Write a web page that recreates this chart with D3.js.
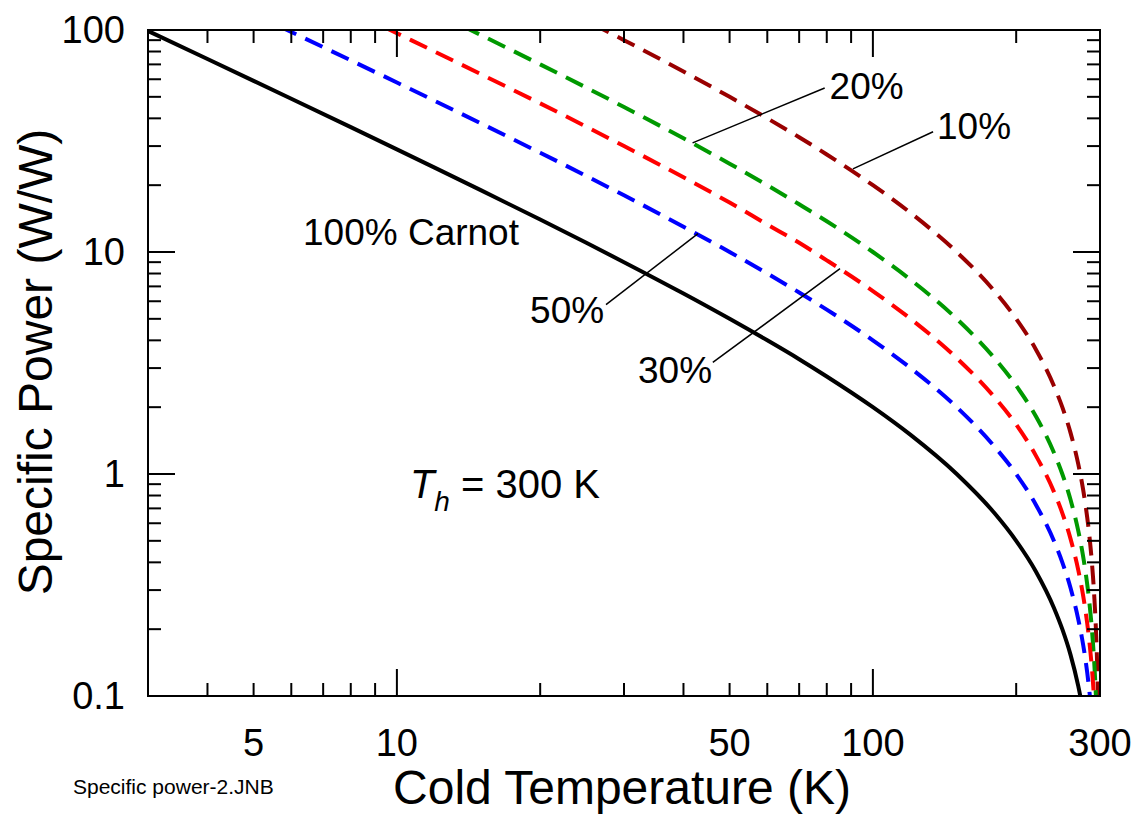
<!DOCTYPE html>
<html>
<head>
<meta charset="utf-8">
<script src="https://cdn.jsdelivr.net/npm/d3@7"></script>
<style>
  body { margin: 0; background: #fff; }
  text { font-family: "Liberation Sans", Arial, sans-serif; fill: #000; }
</style>
</head>
<body>
<div class="chart"></div>
<script>
// cold temperatures (K) at which the curves were read
var temps = [3, 4, 5, 6, 8, 10, 12, 15, 20, 25, 30, 40, 50, 60, 70, 80, 100, 120, 150, 180,
  200, 220, 240, 250, 260, 270, 275, 280, 285, 288, 290, 292, 294, 296, 298];

// specific power (W/W)
var carnot100 = [99, 74, 59, 49, 36.5, 29, 24, 19, 14, 11, 9, 6.5, 5, 4, 3.29, 2.75, 2, 1.5, 1, 0.667,
  0.5, 0.364, 0.25, 0.2, 0.154, 0.111, 0.0909, 0.0714, 0.0526, 0.0417, 0.0345, 0.0274, 0.0204, 0.0135, 0.0067];
var carnot50 = [198, 148, 118, 98, 73, 58, 48, 38, 28, 22, 18, 13, 10, 8, 6.57, 5.5, 4, 3, 2, 1.33,
  1, 0.727, 0.5, 0.4, 0.308, 0.222, 0.182, 0.143, 0.105, 0.0833, 0.069, 0.055, 0.041, 0.027, 0.0134];
var carnot30 = [330, 247, 197, 163, 122, 96.7, 80, 63.3, 46.7, 36.7, 30, 21.7, 16.7, 13.3, 11, 9.17, 6.67, 5, 3.33, 2.22,
  1.67, 1.21, 0.833, 0.667, 0.513, 0.37, 0.303, 0.238, 0.175, 0.139, 0.115, 0.0913, 0.068, 0.045, 0.0224];
var carnot20 = [495, 370, 295, 245, 182, 145, 120, 95, 70, 55, 45, 32.5, 25, 20, 16.4, 13.75, 10, 7.5, 5, 3.33,
  2.5, 1.82, 1.25, 1, 0.769, 0.556, 0.455, 0.357, 0.263, 0.208, 0.172, 0.137, 0.102, 0.0676, 0.0336];
var carnot10 = [990, 740, 590, 490, 365, 290, 240, 190, 140, 110, 90, 65, 50, 40, 32.9, 27.5, 20, 15, 10, 6.67,
  5, 3.64, 2.5, 2, 1.54, 1.11, 0.909, 0.714, 0.526, 0.417, 0.345, 0.274, 0.204, 0.135, 0.067];

var xTickLabels = [5, 10, 50, 100, 300];
var yTickLabels = [0.1, 1, 10, 100];

var svgWidth = 1143;
var svgHeight = 823;
var plot = {left: 148, right: 1100, top: 30, bottom: 696};

var svg = d3.select(".chart")
  .append("svg")
  .attr("width", svgWidth)
  .attr("height", svgHeight);

var x = d3.scaleLog().domain([3, 300]).range([plot.left, plot.right]);
var y = d3.scaleLog().domain([0.1, 100]).range([plot.bottom, plot.top]);

svg.append("clipPath").attr("id", "plotclip")
  .append("rect")
  .attr("x", plot.left).attr("y", plot.top)
  .attr("width", plot.right - plot.left)
  .attr("height", plot.bottom - plot.top);

// curves
var series = [
  {values: carnot10, color: "#990000", dash: "19,10"},
  {values: carnot20, color: "#009900", dash: "19,10"},
  {values: carnot30, color: "#ff0000", dash: "19,10"},
  {values: carnot50, color: "#0000ff", dash: "19,10"},
  {values: carnot100, color: "#000000", dash: null}
];

var line = d3.line()
  .x(d => x(d[0]))
  .y(d => y(d[1]))
  .curve(d3.curveMonotoneX);

var curves = svg.append("g").attr("clip-path", "url(#plotclip)");
series.forEach(function(s) {
  curves.append("path")
    .datum(temps.map((t, i) => [t, s.values[i]]))
    .attr("d", line)
    .attr("fill", "none")
    .attr("stroke", s.color)
    .attr("stroke-width", 4)
    .attr("stroke-dasharray", s.dash);
});

// ticks on all four sides, pointing inward
function isMajor(v) {
  var l = Math.log10(v);
  return Math.abs(l - Math.round(l)) < 1e-9;
}
var ticks = svg.append("g").attr("stroke", "#000").attr("stroke-width", 2);
x.ticks().forEach(function(t) {
  var len = isMajor(t) ? 27 : 13;
  ticks.append("line").attr("x1", x(t)).attr("x2", x(t))
    .attr("y1", plot.bottom).attr("y2", plot.bottom - len);
  ticks.append("line").attr("x1", x(t)).attr("x2", x(t))
    .attr("y1", plot.top).attr("y2", plot.top + len);
});
y.ticks().forEach(function(t) {
  var len = isMajor(t) ? 27 : 13;
  ticks.append("line").attr("y1", y(t)).attr("y2", y(t))
    .attr("x1", plot.left).attr("x2", plot.left + len);
  ticks.append("line").attr("y1", y(t)).attr("y2", y(t))
    .attr("x1", plot.right).attr("x2", plot.right - len);
});

// frame
svg.append("rect")
  .attr("x", plot.left).attr("y", plot.top)
  .attr("width", plot.right - plot.left)
  .attr("height", plot.bottom - plot.top)
  .attr("fill", "none")
  .attr("stroke", "#000")
  .attr("stroke-width", 2);

// tick labels
svg.append("g").selectAll("text")
  .data(xTickLabels)
  .enter().append("text")
  .attr("x", d => x(d))
  .attr("y", plot.bottom + 60)
  .attr("text-anchor", "middle")
  .style("font-size", "38px")
  .text(d => d);

svg.append("g").selectAll("text")
  .data(yTickLabels)
  .enter().append("text")
  .attr("x", plot.left - 23)
  .attr("y", d => y(d) + 13)
  .attr("text-anchor", "end")
  .style("font-size", "38px")
  .text(d => d);

// axis titles
svg.append("text")
  .attr("x", 622)
  .attr("y", 804)
  .attr("text-anchor", "middle")
  .style("font-size", "48px")
  .text("Cold Temperature (K)");

svg.append("text")
  .attr("transform", "translate(52, 362) rotate(-90)")
  .attr("text-anchor", "middle")
  .style("font-size", "48px")
  .text("Specific Power (W/W)");

// annotations, in data units (T, W/W)
var leaders = [
  {from: [41.8, 31.0], to: [79.2, 54.8], label: "20%", at: [81.1, 49.0]},
  {from: [90.8, 23.7], to: [133.8, 34.8], label: "10%", at: [136.4, 32.4]},
  {from: [42.9, 12.1], to: [27.5, 5.79], label: "50%", at: [19.05, 4.81]},
  {from: [85.3, 8.41], to: [46.1, 3.18], label: "30%", at: [32.1, 2.58]}
];
leaders.forEach(function(a) {
  svg.append("line")
    .attr("x1", x(a.from[0])).attr("y1", y(a.from[1]))
    .attr("x2", x(a.to[0])).attr("y2", y(a.to[1]))
    .attr("stroke", "#000").attr("stroke-width", 1.5);
  svg.append("text")
    .attr("x", x(a.at[0])).attr("y", y(a.at[1]))
    .style("font-size", "37px")
    .text(a.label);
});

svg.append("text")
  .attr("x", x(6.35)).attr("y", y(10.8))
  .style("font-size", "37px")
  .text("100% Carnot");

var th = svg.append("text")
  .attr("x", x(10.65)).attr("y", y(0.777))
  .style("font-size", "40px");
th.append("tspan").style("font-style", "italic").text("T");
th.append("tspan").style("font-style", "italic").style("font-size", "28px")
  .attr("dy", 13).text("h");
th.append("tspan").attr("dy", -13).text(" = 300 K");

svg.append("text")
  .attr("x", 73).attr("y", 794)
  .style("font-size", "21px")
  .text("Specific power-2.JNB");
</script>
</body>
</html>
